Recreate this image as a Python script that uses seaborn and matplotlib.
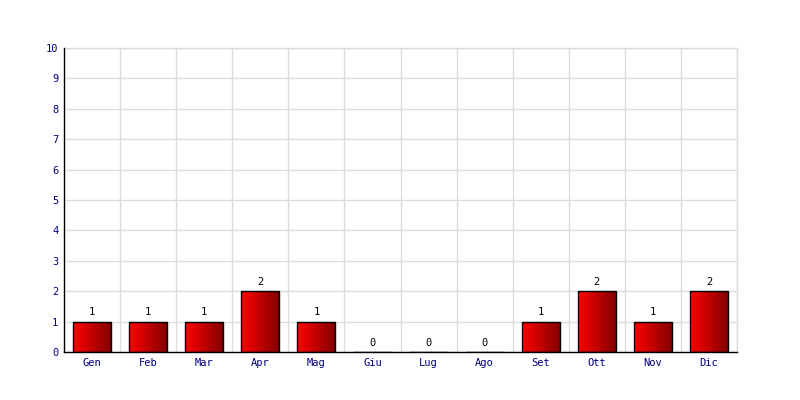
import numpy as np
import pandas as pd
import seaborn as sns
import matplotlib.pyplot as plt
from matplotlib.colors import LinearSegmentedColormap

# Monthly counts
months = ['Gen', 'Feb', 'Mar', 'Apr', 'Mag', 'Giu', 'Lug', 'Ago', 'Set', 'Ott', 'Nov', 'Dic']
counts = [1, 1, 1, 2, 1, 0, 0, 0, 1, 2, 1, 2]
yticks = list(range(0, 11))

df = pd.DataFrame({'mese': months, 'n': counts})

sns.set_style('white')
plt.rcParams['font.family'] = ['DejaVu Sans Mono']

fig = plt.figure(figsize=(8, 4), dpi=100)
ax = fig.add_axes([0.08, 0.12, 0.84125, 0.76])

ax = sns.barplot(data=df, x='mese', y='n', width=0.68, color='red',
                 edgecolor='black', linewidth=1, ax=ax, zorder=3)

# horizontal red gradient inside each bar
cmap = LinearSegmentedColormap.from_list('rg', ['#ff0000', '#800000'])
grad = np.linspace(0, 1, 256).reshape(1, -1)
for p in ax.patches:
    x0, y0 = p.get_x(), p.get_y()
    w, h = p.get_width(), p.get_height()
    if h <= 0:
        continue
    im = ax.imshow(grad, cmap=cmap, aspect='auto', zorder=3,
                   extent=[x0, x0 + w, y0, y0 + h])
    im.set_clip_path(p)
    p.set_facecolor('none')
    p.set_zorder(4)

ax.bar_label(ax.containers[0], labels=[str(v) for v in counts],
             padding=3, fontsize=7.5, color='black')

ax.set_xlim(-0.5, len(months) - 0.5)
ax.set_ylim(0, 10)
ax.set_yticks(yticks)
ax.set_xticks(np.arange(-0.5, len(months)), minor=True)
ax.grid(False)
ax.grid(True, which='minor', axis='x', color='#dcdcdc', linewidth=1, zorder=0)
ax.grid(True, which='major', axis='y', color='#dcdcdc', linewidth=1, zorder=0)
ax.set_axisbelow(True)

ax.set_xlabel('')
ax.set_ylabel('')
ax.tick_params(axis='both', which='both', length=0, labelsize=7.5,
               labelcolor='#000080', pad=4)

for s in ['top', 'right']:
    ax.spines[s].set_color('#dcdcdc')
    ax.spines[s].set_linewidth(1)
for s in ['left', 'bottom']:
    ax.spines[s].set_color('black')
    ax.spines[s].set_linewidth(1)
    ax.spines[s].set_zorder(5)

fig.savefig('out.png', dpi=100)
